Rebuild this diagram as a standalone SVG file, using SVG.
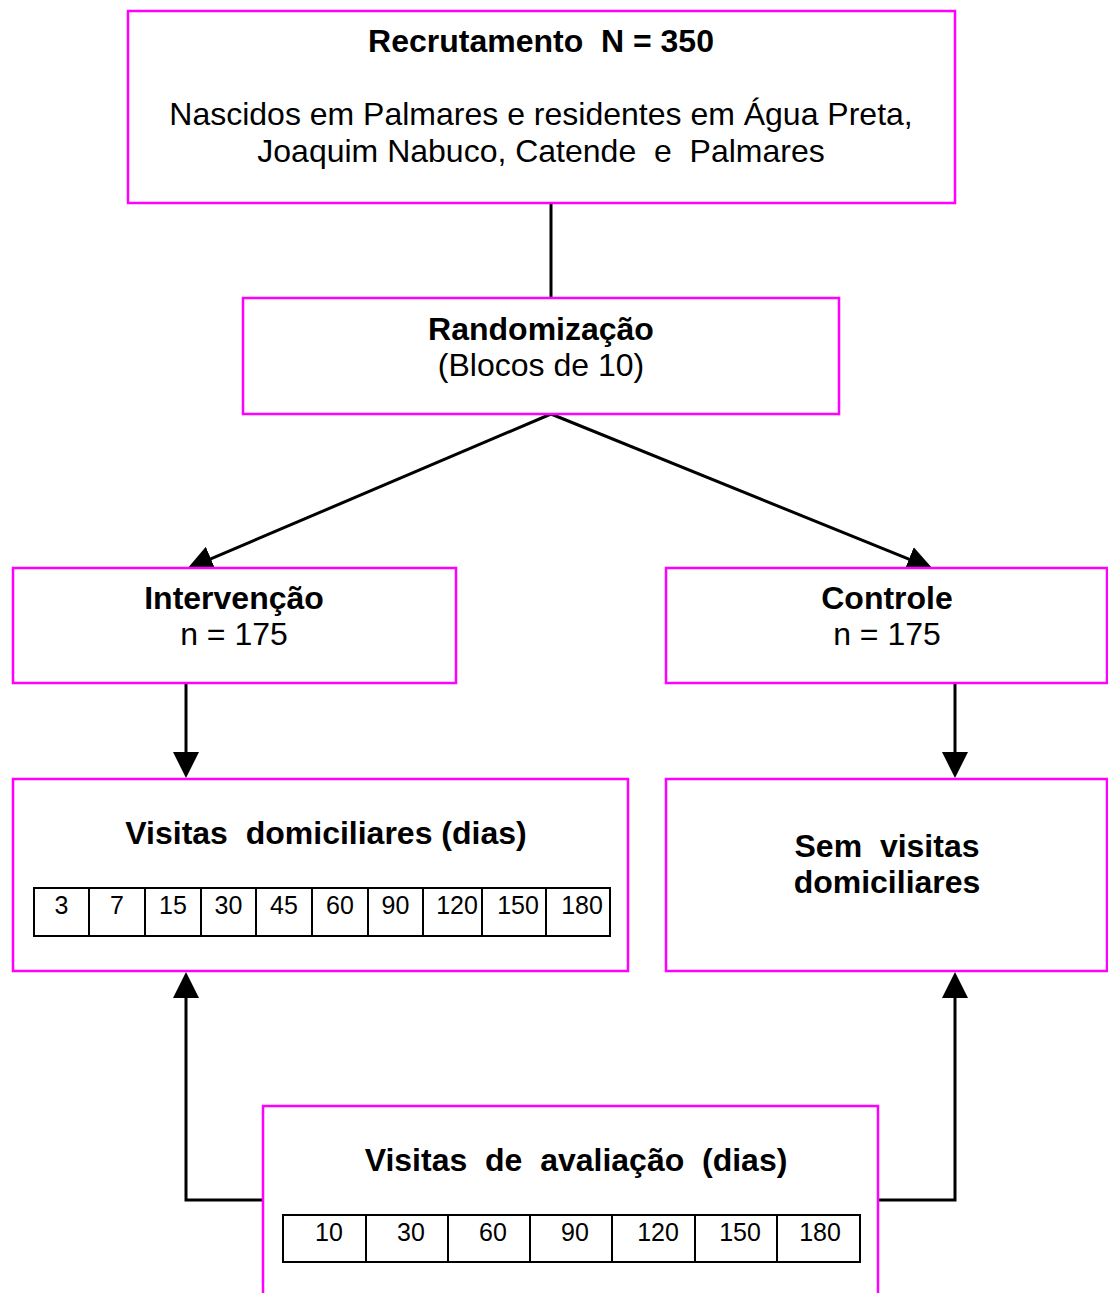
<svg xmlns="http://www.w3.org/2000/svg" width="1108" height="1293" viewBox="0 0 1108 1293">
<style>
.box{fill:#fff;stroke:#ff00ff;stroke-width:2.5}
.con{fill:none;stroke:#000;stroke-width:3}
.cell{fill:#fff;stroke:#000;stroke-width:2}
text{font-family:"Liberation Sans",Arial,sans-serif;fill:#000;text-anchor:middle}
.t{font-size:32px}
.b{font-size:32px;font-weight:bold}
.n{font-size:25px}
</style>
<defs>
<marker id="ah" viewBox="0 0 26 26" refX="20" refY="13" markerWidth="26" markerHeight="26" markerUnits="userSpaceOnUse" orient="auto">
<path d="M0,0 L26,13 L0,26 z" fill="#000"/>
</marker>
</defs>
<rect width="1108" height="1293" fill="#fff"/>
<g id="connectors">
<line class="con" x1="551" y1="203" x2="551" y2="298"/>
<line class="con" x1="551" y1="414" x2="192.5" y2="566.6" marker-end="url(#ah)"/>
<line class="con" x1="551" y1="414" x2="927.4" y2="566.7" marker-end="url(#ah)"/>
<line class="con" x1="186" y1="683" x2="186" y2="772" marker-end="url(#ah)"/>
<line class="con" x1="955" y1="683" x2="955" y2="772" marker-end="url(#ah)"/>
<path class="con" d="M263,1200 H186 V978" marker-end="url(#ah)"/>
<path class="con" d="M878,1200 H955 V978" marker-end="url(#ah)"/>
</g>
<g id="recrutamento">
<rect class="box" x="128" y="11" width="827" height="192"/>
<text class="b" x="541" y="52" xml:space="preserve">Recrutamento  N = 350</text>
<text class="t" x="541" y="125">Nascidos em Palmares e residentes em Água Preta,</text>
<text class="t" x="541" y="162" xml:space="preserve">Joaquim Nabuco, Catende  e  Palmares</text>
</g>
<g id="randomizacao">
<rect class="box" x="243" y="298" width="596" height="116"/>
<text class="b" x="541" y="340">Randomização</text>
<text class="t" x="541" y="376">(Blocos de 10)</text>
</g>
<g id="intervencao">
<rect class="box" x="13" y="568" width="443" height="115"/>
<text class="b" x="234" y="609">Intervenção</text>
<text class="t" x="234" y="645">n = 175</text>
</g>
<g id="controle">
<rect class="box" x="666" y="568" width="441" height="115"/>
<text class="b" x="887" y="609">Controle</text>
<text class="t" x="887" y="645">n = 175</text>
</g>
<g id="visitas-domiciliares">
<rect class="box" x="13" y="779" width="615" height="192"/>
<text class="b" x="326" y="844" xml:space="preserve">Visitas  domiciliares (dias)</text>
<rect class="cell" x="34" y="888" width="576" height="48"/>
<path class="cell" d="M89,888V936M145,888V936M201,888V936M256,888V936M312,888V936M368,888V936M423,888V936M482,888V936M546,888V936"/>
<text class="n" x="61.5" y="914">3</text>
<text class="n" x="117" y="914">7</text>
<text class="n" x="173" y="914">15</text>
<text class="n" x="228.5" y="914">30</text>
<text class="n" x="284" y="914">45</text>
<text class="n" x="340" y="914">60</text>
<text class="n" x="395.5" y="914">90</text>
<text class="n" x="457" y="914">120</text>
<text class="n" x="518" y="914">150</text>
<text class="n" x="582" y="914">180</text>
</g>
<g id="sem-visitas">
<rect class="box" x="666" y="779" width="441" height="192"/>
<text class="b" x="887" y="857" xml:space="preserve">Sem  visitas</text>
<text class="b" x="887" y="893">domiciliares</text>
</g>
<g id="visitas-avaliacao">
<rect class="box" x="263" y="1106" width="615" height="220"/>
<text class="b" x="576" y="1171" xml:space="preserve">Visitas  de  avaliação  (dias)</text>
<rect class="cell" x="283" y="1215" width="577" height="47"/>
<path class="cell" d="M366,1215V1262M448,1215V1262M530,1215V1262M612,1215V1262M695,1215V1262M777,1215V1262"/>
<text class="n" x="329" y="1241">10</text>
<text class="n" x="411" y="1241">30</text>
<text class="n" x="493" y="1241">60</text>
<text class="n" x="575" y="1241">90</text>
<text class="n" x="658" y="1241">120</text>
<text class="n" x="740" y="1241">150</text>
<text class="n" x="820" y="1241">180</text>
</g>
</svg>
